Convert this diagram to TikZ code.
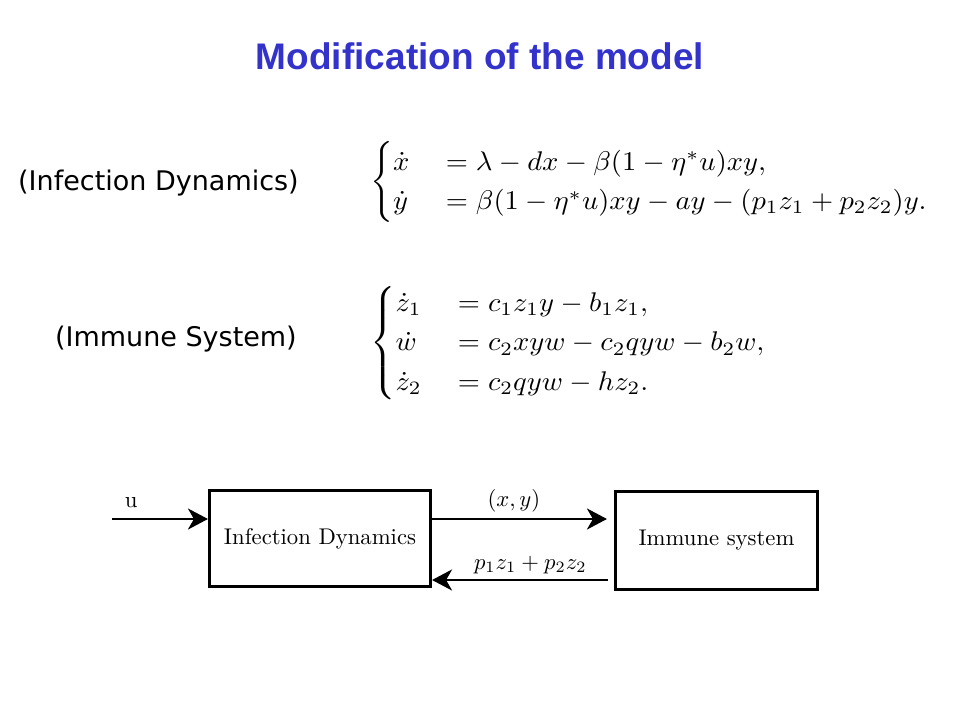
\RequirePackage{fix-cm}
\documentclass[tikz,border=0pt]{standalone}
\usepackage{amsmath}
\usepackage{graphicx}
\usepackage{fontspec}
\newfontfamily\titlefont{Liberation Sans}
\newfontfamily\labelfont{DejaVu Sans}
\definecolor{titleblue}{RGB}{51,51,204}
\usetikzlibrary{positioning, arrows.meta}

\begin{document}
\begin{tikzpicture}[
    x=1pt, y=-1pt,
    >={Stealth[length=20pt, width=21pt, inset=6pt]},
    block/.style={draw, line width=2.6pt, font=\fontsize{10}{12}\selectfont},
    tag/.style={font=\labelfont\fontsize{27}{32}\selectfont, inner sep=0pt},
    eqn/.style={font=\fontsize{10}{12.3}\selectfont, inner sep=0pt},
    arr/.style={->, line width=2.6pt},
    lbl/.style={font=\fontsize{10}{12}\selectfont, inner sep=0pt}
]
    \useasboundingbox (0,0) rectangle (960,720);

    % Title
    \node[anchor=base, text=titleblue, font=\titlefont\bfseries\fontsize{37}{44}\selectfont] (title) at (480,69) {Modification of the model};

    % Model equations
    \node[tag, anchor=base west] (infectlabel) at (18,190) {(Infection Dynamics)};
    \node[eqn, anchor=west] (infecteq) at (370,182) {\scalebox{2.85}[2.7]{$\begin{cases}
        \dot x & {}= \lambda - dx - \beta(1-\eta^*u)xy,\\
        \dot y & {}= \beta(1-\eta^*u)xy - ay - (p_1z_1+p_2z_2)y.
    \end{cases}$}};

    \node[tag, anchor=base east] (immunelabel) at (297,346) {(Immune System)};
    \node[eqn, anchor=west] (immuneeq) at (370,343) {\scalebox{2.85}[2.7]{$\begin{cases}
        \dot z_1 & {}= c_1z_1y - b_1z_1,\\
        \dot w & {}= c_2xyw - c_2qyw - b_2w,\\
        \dot z_2 & {}= c_2qyw - hz_2.
    \end{cases}$}};

    % Blocks
    \node[block, minimum width=221.5pt, minimum height=96.5pt] (infect) at (320,538.5) {\scalebox{2.27}{Infection Dynamics}};
    \node[block, minimum width=202.5pt, minimum height=98.5pt] (immune) at (716.5,540.5) {\scalebox{2.27}{Immune system}};
    \coordinate (uin) at (112,519);
    \coordinate (fb) at (614,580);

    % Signals
    \draw[arr] (uin) -- node[lbl, above=10pt, pos=0.2] (ulabel) {\scalebox{2.27}{u}} (infect.west |- uin);
    \draw[arr, shorten >=7pt] (infect.east |- uin) -- node[lbl, above=6pt, pos=0.45] (xylabel) {\scalebox{2.27}{$(x,y)$}} (immune.west |- uin);
    \draw[arr, shorten <=6pt] (immune.west |- fb) -- node[lbl, above=5pt, pos=0.46] (plabel) {\scalebox{2.27}{$p_1z_1+p_2z_2$}} (infect.east |- fb);

\end{tikzpicture}
\end{document}
